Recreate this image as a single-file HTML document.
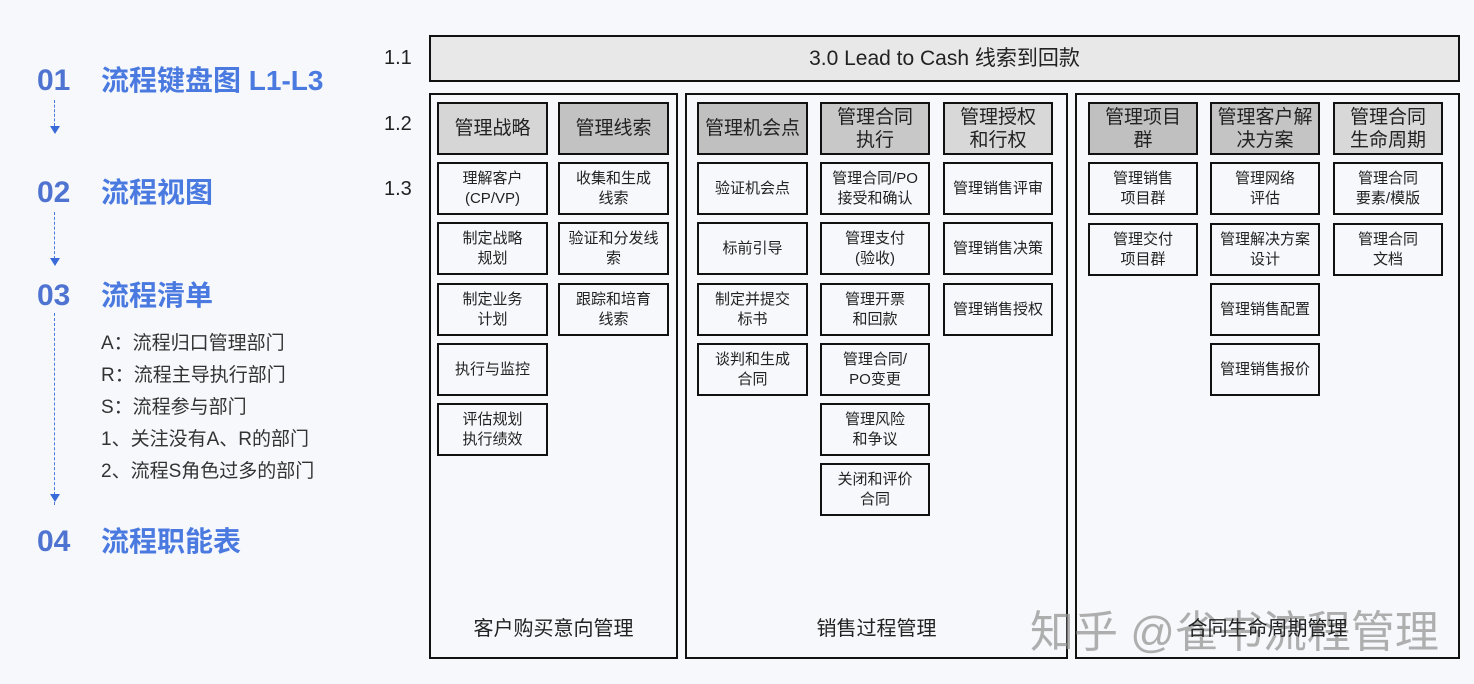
<!DOCTYPE html>
<html><head><meta charset="utf-8"><style>
body{margin:0;width:1474px;height:684px;background:#f6f8fc;position:relative;overflow:hidden;font-family:"Liberation Sans","Noto Sans CJK SC",sans-serif;}
.a{position:absolute;box-sizing:border-box;}
.b{position:absolute;box-sizing:border-box;border:2px solid #111;display:flex;align-items:center;justify-content:center;text-align:center;font-size:15px;line-height:20px;color:#222;background:#f7f8fc;}
.h{font-size:19px;line-height:23px;color:#222;}
.n{position:absolute;font-weight:bold;color:#4f73d0;font-size:30px;line-height:36px;}
.t{position:absolute;font-weight:bold;color:#4a7ae0;font-size:28px;line-height:36px;}
.l{position:absolute;font-size:19px;color:#333;}
.dash{position:absolute;left:54px;border-left:1.5px dashed #4a7ae0;width:0;}
.arr{position:absolute;left:50px;width:0;height:0;border-left:5px solid transparent;border-right:5px solid transparent;border-top:8px solid #3a6ad8;}
.lbl{position:absolute;font-size:20px;color:#222;}
</style></head><body>
<div class="n" style="left:37px;top:63px">01</div><div class="t" style="left:101px;top:63px">流程键盘图 L1-L3</div>
<div class="dash" style="top:100px;height:26px"></div><div class="arr" style="top:126px"></div>
<div class="n" style="left:37px;top:175px">02</div><div class="t" style="left:101px;top:175px">流程视图</div>
<div class="dash" style="top:212px;height:47px"></div><div class="arr" style="top:258px"></div>
<div class="n" style="left:37px;top:278px">03</div><div class="t" style="left:101px;top:278px">流程清单</div>
<div class="dash" style="top:313px;height:192px"></div><div class="arr" style="top:494px"></div>
<div class="l" style="left:101px;top:328px">A：流程归口管理部门</div>
<div class="l" style="left:101px;top:360px">R：流程主导执行部门</div>
<div class="l" style="left:101px;top:392px">S：流程参与部门</div>
<div class="l" style="left:101px;top:424px">1、关注没有A、R的部门</div>
<div class="l" style="left:101px;top:456px">2、流程S角色过多的部门</div>
<div class="n" style="left:37px;top:524px">04</div><div class="t" style="left:101px;top:524px">流程职能表</div>

<div class="lbl" style="left:384px;top:47px">1.1</div>
<div class="lbl" style="left:384px;top:113px">1.2</div>
<div class="lbl" style="left:384px;top:178px">1.3</div>

<div class="b" style="left:429px;top:35px;width:1031px;height:47px;background:#e8e8e8;font-size:21px">3.0 Lead to Cash 线索到回款</div>
<div class="a" style="left:429px;top:93px;width:249px;height:566px;border:2px solid #111"></div>
<div class="a" style="left:685px;top:93px;width:383px;height:566px;border:2px solid #111"></div>
<div class="a" style="left:1075px;top:93px;width:385px;height:566px;border:2px solid #111"></div>
<div class="lbl" style="left:429px;width:249px;text-align:center;top:612px">客户购买意向管理</div>
<div class="lbl" style="left:685px;width:383px;text-align:center;top:612px">销售过程管理</div>
<div class="a" style="left:1030px;top:596px;font-size:44px;color:rgba(150,150,150,0.75);white-space:nowrap">知乎 @雀书流程管理</div>
<div class="lbl" style="left:1075px;width:385px;text-align:center;top:612px">合同生命周期管理</div>

<div class="b h" style="left:437px;top:102px;width:111px;height:53px;background:#d6d6d6">管理战略</div>
<div class="b h" style="left:558px;top:102px;width:111px;height:53px;background:#c2c2c2">管理线索</div>
<div class="b h" style="left:697px;top:102px;width:111px;height:53px;background:#c0c0c0">管理机会点</div>
<div class="b h" style="left:820px;top:102px;width:110px;height:53px;background:#c8c8c8">管理合同<br>执行</div>
<div class="b h" style="left:943px;top:102px;width:110px;height:53px;background:#d8d8d8">管理授权<br>和行权</div>
<div class="b h" style="left:1088px;top:102px;width:110px;height:53px;background:#c0c0c0">管理项目<br>群</div>
<div class="b h" style="left:1210px;top:102px;width:110px;height:53px;background:#c4c4c4">管理客户解<br>决方案</div>
<div class="b h" style="left:1333px;top:102px;width:110px;height:53px;background:#d8d8d8">管理合同<br>生命周期</div>

<div class="b" style="left:437px;top:162px;width:111px;height:53px">理解客户<br>(CP/VP)</div>
<div class="b" style="left:437px;top:222px;width:111px;height:53px">制定战略<br>规划</div>
<div class="b" style="left:437px;top:283px;width:111px;height:53px">制定业务<br>计划</div>
<div class="b" style="left:437px;top:343px;width:111px;height:53px">执行与监控</div>
<div class="b" style="left:437px;top:403px;width:111px;height:53px">评估规划<br>执行绩效</div>
<div class="b" style="left:558px;top:162px;width:111px;height:53px">收集和生成<br>线索</div>
<div class="b" style="left:558px;top:222px;width:111px;height:53px">验证和分发线<br>索</div>
<div class="b" style="left:558px;top:283px;width:111px;height:53px">跟踪和培育<br>线索</div>
<div class="b" style="left:697px;top:162px;width:111px;height:53px">验证机会点</div>
<div class="b" style="left:697px;top:222px;width:111px;height:53px">标前引导</div>
<div class="b" style="left:697px;top:283px;width:111px;height:53px">制定并提交<br>标书</div>
<div class="b" style="left:697px;top:343px;width:111px;height:53px">谈判和生成<br>合同</div>
<div class="b" style="left:820px;top:162px;width:110px;height:53px">管理合同/PO<br>接受和确认</div>
<div class="b" style="left:820px;top:222px;width:110px;height:53px">管理支付<br>(验收)</div>
<div class="b" style="left:820px;top:283px;width:110px;height:53px">管理开票<br>和回款</div>
<div class="b" style="left:820px;top:343px;width:110px;height:53px">管理合同/<br>PO变更</div>
<div class="b" style="left:820px;top:403px;width:110px;height:53px">管理风险<br>和争议</div>
<div class="b" style="left:820px;top:463px;width:110px;height:53px">关闭和评价<br>合同</div>
<div class="b" style="left:943px;top:162px;width:110px;height:53px">管理销售评审</div>
<div class="b" style="left:943px;top:222px;width:110px;height:53px">管理销售决策</div>
<div class="b" style="left:943px;top:283px;width:110px;height:53px">管理销售授权</div>
<div class="b" style="left:1088px;top:162px;width:110px;height:53px">管理销售<br>项目群</div>
<div class="b" style="left:1088px;top:223px;width:110px;height:53px">管理交付<br>项目群</div>
<div class="b" style="left:1210px;top:162px;width:110px;height:53px">管理网络<br>评估</div>
<div class="b" style="left:1210px;top:223px;width:110px;height:53px">管理解决方案<br>设计</div>
<div class="b" style="left:1210px;top:283px;width:110px;height:53px">管理销售配置</div>
<div class="b" style="left:1210px;top:343px;width:110px;height:53px">管理销售报价</div>
<div class="b" style="left:1333px;top:162px;width:110px;height:53px">管理合同<br>要素/模版</div>
<div class="b" style="left:1333px;top:223px;width:110px;height:53px">管理合同<br>文档</div>
</body></html>
